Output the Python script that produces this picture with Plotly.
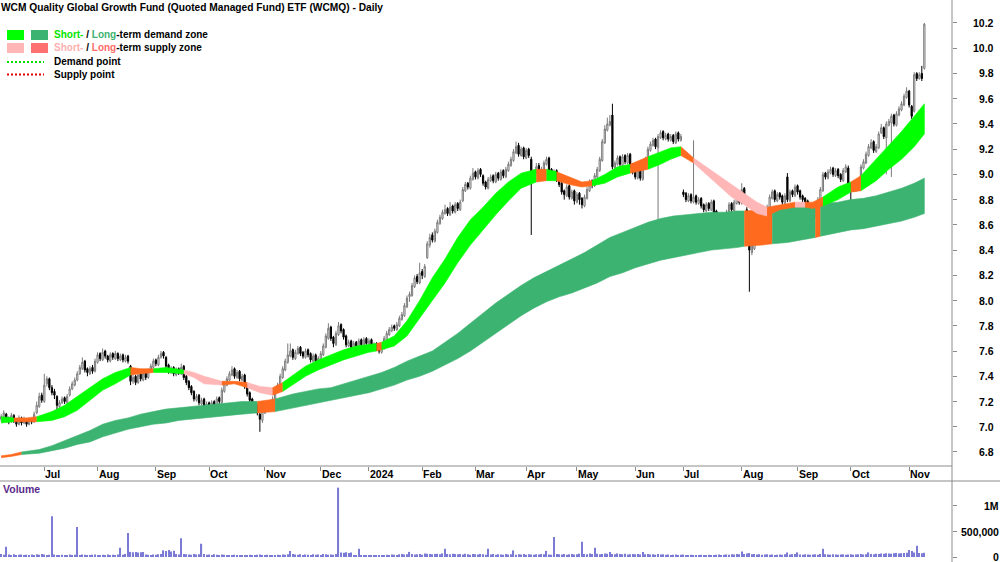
import plotly.graph_objects as go
import pandas as pd

# ---------------- data ----------------
opens = [
7.06,7.08,7.10,7.06,7.04,7.09,7.05,7.02,7.07,7.03,
7.06,7.02,7.05,7.04,7.11,7.16,7.25,7.20,7.34,7.38,
7.31,7.28,7.24,7.16,7.19,7.23,7.19,7.25,7.30,7.33,
7.37,7.42,7.46,7.52,7.46,7.42,7.47,7.44,7.51,7.58,
7.53,7.60,7.56,7.52,7.58,7.54,7.58,7.53,7.57,7.52,
7.56,7.48,7.36,7.40,7.35,7.42,7.37,7.43,7.39,7.44,
7.47,7.53,7.49,7.55,7.59,7.55,7.49,7.43,7.47,7.41,
7.46,7.42,7.48,7.40,7.36,7.32,7.28,7.21,7.25,7.18,
7.22,7.15,7.19,7.13,7.20,7.16,7.23,7.19,7.28,7.33,
7.37,7.41,7.46,7.39,7.44,7.37,7.41,7.33,7.27,7.22,
7.19,7.17,7.10,7.05,7.11,7.13,7.18,7.14,7.21,7.28,
7.32,7.39,7.45,7.51,7.56,7.61,7.54,7.58,7.63,7.59,
7.55,7.61,7.58,7.52,7.57,7.51,7.53,7.57,7.63,7.70,
7.79,7.71,7.65,7.73,7.81,7.77,7.72,7.64,7.68,7.62,
7.67,7.63,7.69,7.64,7.70,7.65,7.69,7.63,7.66,7.63,
7.59,7.62,7.69,7.73,7.76,7.80,7.77,7.80,7.85,7.88,
7.95,8.03,8.04,8.11,8.19,8.14,8.23,8.19,8.34,8.44,
8.52,8.47,8.54,8.61,8.65,8.69,8.73,8.68,8.75,8.70,
8.77,8.72,8.79,8.87,8.93,8.89,8.96,9.02,8.97,9.04,
8.99,8.94,8.89,8.95,8.99,8.94,9.01,8.96,9.03,8.98,
9.03,9.07,9.11,9.17,9.23,9.15,9.21,9.13,9.20,9.12,
8.97,9.01,9.07,8.99,9.03,9.08,9.13,9.04,8.97,9.03,
8.97,8.93,8.87,8.83,8.91,8.81,8.87,8.78,8.85,8.81,
8.75,8.81,8.87,8.95,8.91,8.98,9.03,9.11,9.25,9.35,
9.39,9.47,9.05,9.08,9.14,9.07,9.15,9.09,9.16,9.08,
9.03,8.97,9.04,8.96,9.05,9.11,9.19,9.23,9.28,9.21,
9.29,9.34,9.28,9.32,9.27,9.31,9.25,9.33,9.27,8.86,
8.85,8.79,8.84,8.78,8.83,8.77,8.81,8.76,8.71,8.77,
8.72,8.79,8.71,8.67,8.63,8.59,8.65,8.69,8.77,8.71,
8.77,8.83,8.77,8.89,8.72,8.45,8.38,8.41,8.47,8.51,
8.57,8.61,8.65,8.73,8.81,8.87,8.79,8.85,8.83,8.77,
8.98,8.79,8.87,8.83,8.91,8.87,8.83,8.81,8.79,8.74,
8.71,8.67,8.71,8.79,8.87,9.01,8.97,9.01,9.05,8.99,
9.04,9.00,8.95,9.02,9.05,8.93,8.91,8.87,8.91,8.95,
9.05,9.09,9.15,9.21,9.26,9.18,9.21,9.33,9.37,9.29,
9.39,9.41,9.47,9.39,9.47,9.51,9.55,9.61,9.66,9.54,
9.50,9.80,9.76,9.80,9.84]

highs = [
7.10,7.13,7.11,7.08,7.11,7.10,7.06,7.09,7.08,7.08,
7.07,7.07,7.07,7.12,7.20,7.27,7.27,7.42,7.40,7.39,
7.33,7.30,7.25,7.21,7.24,7.24,7.26,7.32,7.36,7.39,
7.44,7.49,7.55,7.53,7.47,7.48,7.49,7.54,7.59,7.59,
7.62,7.61,7.57,7.59,7.59,7.60,7.59,7.58,7.58,7.57,
7.57,7.49,7.41,7.41,7.43,7.43,7.44,7.44,7.46,7.50,
7.54,7.54,7.57,7.60,7.60,7.56,7.50,7.48,7.48,7.47,
7.47,7.50,7.49,7.41,7.37,7.33,7.29,7.26,7.26,7.23,
7.23,7.20,7.20,7.21,7.21,7.24,7.24,7.31,7.36,7.40,
7.44,7.48,7.47,7.45,7.45,7.42,7.42,7.34,7.28,7.23,
7.20,7.18,7.11,7.14,7.16,7.19,7.19,7.24,7.31,7.35,
7.42,7.48,7.54,7.66,7.66,7.62,7.61,7.64,7.64,7.60,
7.62,7.62,7.59,7.58,7.58,7.56,7.60,7.66,7.74,7.82,
7.80,7.72,7.76,7.83,7.82,7.78,7.73,7.69,7.69,7.68,
7.68,7.70,7.70,7.71,7.71,7.70,7.70,7.67,7.67,7.64,
7.65,7.72,7.76,7.79,7.81,7.81,7.83,7.88,7.91,7.98,
8.04,8.07,8.14,8.20,8.21,8.30,8.25,8.29,8.47,8.53,
8.54,8.57,8.64,8.68,8.72,8.76,8.74,8.78,8.76,8.78,
8.78,8.80,8.90,8.94,8.94,8.99,9.05,9.03,9.05,9.05,
9.00,8.95,8.98,9.00,9.00,9.02,9.02,9.04,9.04,9.06,
9.10,9.14,9.20,9.26,9.25,9.22,9.22,9.21,9.21,9.14,
9.04,9.09,9.09,9.06,9.11,9.14,9.14,9.05,9.04,9.04,
8.98,8.94,8.88,8.92,8.92,8.88,8.88,8.86,8.86,8.82,
8.84,8.90,8.96,8.96,9.01,9.06,9.14,9.28,9.39,9.45,
9.47,9.56,9.11,9.15,9.15,9.16,9.16,9.17,9.17,9.09,
9.04,9.05,9.05,9.08,9.14,9.22,9.26,9.29,9.29,9.32,
9.35,9.35,9.33,9.33,9.32,9.32,9.34,9.34,9.32,8.88,
8.86,8.85,8.85,9.27,8.84,8.82,8.82,8.77,8.78,8.78,
8.80,8.80,8.72,8.68,8.64,8.68,8.72,8.78,8.78,8.80,
8.84,8.84,8.93,8.90,8.74,8.47,8.46,8.50,8.54,8.60,
8.64,8.68,8.76,8.84,8.88,8.88,8.86,8.86,8.84,8.85,
9.01,8.88,8.88,8.92,8.92,8.88,8.84,8.82,8.80,8.75,
8.72,8.74,8.82,8.90,9.02,9.02,9.04,9.06,9.06,9.05,
9.05,9.01,9.05,9.08,9.07,8.94,8.92,8.94,8.96,9.08,
9.12,9.18,9.24,9.28,9.27,9.24,9.34,9.40,9.38,9.42,
9.44,9.48,9.48,9.50,9.54,9.58,9.64,9.69,9.67,9.55,
9.81,9.81,9.81,9.86,10.20]

lows = [
7.04,7.07,7.04,7.02,7.03,7.03,7.00,7.01,7.01,7.02,
7.00,7.01,7.02,7.03,7.10,7.15,7.19,7.19,7.32,7.29,
7.25,7.22,7.13,7.14,7.18,7.18,7.18,7.24,7.29,7.32,
7.36,7.41,7.45,7.43,7.40,7.41,7.42,7.43,7.50,7.52,
7.52,7.54,7.51,7.51,7.53,7.53,7.52,7.52,7.51,7.51,
7.50,7.33,7.34,7.33,7.34,7.36,7.36,7.37,7.38,7.43,
7.46,7.48,7.48,7.54,7.54,7.46,7.42,7.42,7.40,7.40,
7.41,7.41,7.37,7.33,7.29,7.25,7.20,7.20,7.17,7.17,
7.14,7.14,7.12,7.12,7.15,7.15,7.18,7.18,7.27,7.32,
7.36,7.40,7.38,7.38,7.36,7.36,7.30,7.24,7.19,7.16,
7.14,7.09,6.96,7.03,7.10,7.12,7.13,7.13,7.20,7.27,
7.31,7.38,7.44,7.50,7.55,7.53,7.53,7.57,7.56,7.54,
7.54,7.55,7.51,7.51,7.49,7.50,7.52,7.56,7.62,7.69,
7.68,7.63,7.64,7.72,7.74,7.69,7.63,7.63,7.61,7.61,
7.62,7.62,7.63,7.63,7.64,7.64,7.62,7.62,7.60,7.58,
7.58,7.61,7.68,7.72,7.75,7.76,7.76,7.79,7.84,7.87,
7.94,7.99,8.03,8.10,8.13,8.13,8.17,8.18,8.33,8.42,
8.46,8.46,8.53,8.60,8.64,8.68,8.67,8.67,8.69,8.69,
8.71,8.71,8.78,8.86,8.88,8.88,8.95,8.96,8.96,8.98,
8.91,8.88,8.88,8.94,8.93,8.93,8.95,8.95,8.97,8.97,
9.02,9.06,9.10,9.16,9.14,9.14,9.12,9.12,9.13,8.52,
8.96,9.00,8.98,8.98,9.02,9.07,9.01,8.96,8.96,8.94,
8.90,8.84,8.80,8.82,8.80,8.80,8.76,8.77,8.76,8.73,
8.74,8.80,8.86,8.89,8.90,8.97,9.02,9.10,9.24,9.34,
9.38,9.04,9.03,9.07,9.06,9.06,9.08,9.08,9.05,9.00,
8.96,8.96,8.95,8.95,9.04,9.10,9.18,9.22,9.20,8.60,
9.28,9.27,9.27,9.26,9.26,9.24,9.24,9.26,9.26,8.82,
8.78,8.78,8.77,8.77,8.76,8.76,8.73,8.70,8.70,8.71,
8.71,8.68,8.64,8.60,8.57,8.58,8.64,8.68,8.70,8.70,
8.76,8.76,8.76,8.82,8.52,8.07,8.36,8.40,8.46,8.50,
8.56,8.60,8.64,8.72,8.80,8.78,8.78,8.80,8.76,8.76,
8.78,8.78,8.82,8.82,8.84,8.80,8.78,8.76,8.71,8.68,
8.64,8.66,8.70,8.78,8.86,8.96,8.96,9.00,8.98,8.98,
8.97,8.94,8.94,9.01,8.91,8.56,8.86,8.86,8.90,8.94,
9.04,9.08,9.14,9.20,9.17,9.17,9.20,9.32,9.28,9.00,
9.38,8.98,9.38,9.38,9.46,9.50,9.54,9.60,9.53,9.44,
9.49,9.74,9.75,9.74,9.83]

closes = [
7.08,7.11,7.06,7.04,7.09,7.05,7.02,7.07,7.03,7.06,
7.02,7.05,7.04,7.10,7.17,7.24,7.21,7.33,7.38,7.31,
7.27,7.25,7.17,7.19,7.22,7.20,7.24,7.30,7.34,7.37,
7.42,7.47,7.51,7.45,7.43,7.46,7.44,7.52,7.57,7.54,
7.59,7.56,7.53,7.57,7.55,7.58,7.54,7.56,7.53,7.55,
7.52,7.36,7.39,7.35,7.41,7.38,7.42,7.39,7.44,7.48,
7.52,7.50,7.55,7.58,7.56,7.48,7.44,7.46,7.42,7.45,
7.43,7.47,7.39,7.35,7.31,7.27,7.22,7.24,7.19,7.21,
7.16,7.18,7.14,7.19,7.17,7.22,7.20,7.29,7.34,7.38,
7.42,7.45,7.40,7.43,7.38,7.40,7.32,7.26,7.21,7.18,
7.16,7.11,7.06,7.12,7.14,7.17,7.15,7.22,7.29,7.33,
7.40,7.46,7.52,7.57,7.60,7.55,7.59,7.62,7.58,7.56,
7.60,7.57,7.53,7.56,7.52,7.54,7.58,7.64,7.72,7.78,
7.70,7.66,7.74,7.80,7.76,7.71,7.65,7.67,7.63,7.66,
7.64,7.68,7.65,7.69,7.66,7.68,7.64,7.65,7.62,7.60,
7.63,7.70,7.74,7.77,7.79,7.78,7.81,7.86,7.89,7.96,
8.02,8.05,8.12,8.18,8.15,8.22,8.20,8.27,8.45,8.50,
8.48,8.55,8.62,8.66,8.70,8.72,8.69,8.74,8.71,8.76,
8.73,8.78,8.88,8.92,8.90,8.97,9.01,8.98,9.03,9.00,
8.93,8.90,8.96,8.98,8.95,9.00,8.97,9.02,8.99,9.04,
9.08,9.12,9.18,9.22,9.16,9.20,9.14,9.19,9.15,8.98,
9.02,9.06,9.00,9.04,9.09,9.12,9.03,8.98,9.02,8.96,
8.92,8.86,8.84,8.90,8.82,8.86,8.79,8.84,8.80,8.76,
8.82,8.88,8.94,8.92,8.99,9.04,9.12,9.26,9.36,9.40,
9.42,9.06,9.09,9.13,9.08,9.14,9.10,9.15,9.07,9.02,
8.98,9.03,8.97,9.06,9.12,9.20,9.24,9.27,9.22,9.30,
9.33,9.29,9.31,9.28,9.30,9.26,9.32,9.28,9.30,8.84,
8.80,8.83,8.79,8.82,8.78,8.80,8.75,8.72,8.76,8.73,
8.78,8.70,8.66,8.62,8.60,8.66,8.70,8.76,8.72,8.78,
8.82,8.78,8.88,8.84,8.53,8.40,8.44,8.48,8.52,8.58,
8.62,8.66,8.74,8.82,8.86,8.80,8.84,8.82,8.78,8.83,
8.80,8.86,8.84,8.90,8.86,8.82,8.80,8.78,8.73,8.70,
8.68,8.72,8.80,8.88,9.00,8.98,9.02,9.04,9.00,9.03,
8.99,8.96,9.03,9.06,8.92,8.90,8.88,8.92,8.94,9.06,
9.10,9.16,9.22,9.25,9.19,9.22,9.32,9.37,9.30,9.40,
9.42,9.46,9.40,9.48,9.52,9.56,9.62,9.66,9.55,9.46,
9.79,9.76,9.79,9.76,10.19]

# daily volume, thousands of units
volume_k = [
60,45,200,50,40,55,35,45,50,40,
45,35,50,40,55,45,60,50,40,45,
800,50,40,35,45,30,40,50,35,45,
590,40,50,45,35,40,45,50,40,35,
45,40,50,35,45,40,50,180,45,60,
470,100,95,100,90,95,100,50,45,40,
50,45,55,60,130,120,135,110,125,60,
50,370,60,55,50,45,60,50,55,260,
60,45,50,40,55,45,40,50,45,40,
35,40,45,35,40,30,35,40,45,35,
40,45,50,40,35,45,40,35,40,45,
40,50,45,55,120,60,50,45,55,40,
50,45,40,55,45,50,40,60,55,45,
50,45,60,1360,90,85,95,80,90,40,
35,160,30,25,35,30,40,35,30,35,
40,35,45,40,50,45,40,55,60,50,
55,100,60,50,55,60,45,70,65,60,
55,60,65,55,70,160,60,55,65,60,
55,60,50,65,55,45,60,55,50,60,
55,45,160,50,60,45,55,50,45,60,
50,55,130,45,55,50,60,45,55,50,
45,55,50,60,55,120,50,45,390,60,
55,50,60,45,55,60,50,55,65,300,
60,55,70,60,180,65,55,60,70,65,
100,60,55,70,60,55,65,50,55,60,
55,60,50,100,55,60,50,55,45,60,
50,55,45,50,40,45,50,40,45,50,
40,35,45,40,35,40,45,35,40,45,
40,35,45,50,40,45,50,45,55,50,
60,55,110,60,70,80,55,60,50,55,
45,50,55,45,50,40,45,50,45,55,
90,50,55,60,90,50,45,55,50,45,
50,55,45,60,160,55,50,45,55,50,
45,50,55,45,50,55,45,50,55,60,
50,55,90,60,55,65,60,70,65,75,
70,65,75,80,70,75,80,85,135,120,
90,220,80,75,85]

# short-term zone edges, read at these trading-day positions
st_idx = [0,5,10,14,20,25,30,35,40,45,51,55,60,65,72,76,80,87,92,97,
          102,107,111,115,120,125,130,135,140,145,148,150,155,160,165,170,175,180,185,190,
          195,200,205,211,215,219,224,229,233,238,243,248,255,260,264,268,273,278,283,288,
          293,298,302,307,313,317,320,324,330,335,339,345,350,355,360,364]
st_hi = [7.08,7.07,7.07,7.08,7.12,7.17,7.24,7.31,7.38,7.43,7.47,7.46,7.46,7.47,7.45,7.43,7.40,7.36,7.36,7.35,
         7.32,7.31,7.35,7.41,7.48,7.53,7.57,7.61,7.64,7.65,7.66,7.67,7.72,7.84,8.00,8.18,8.33,8.50,8.64,8.74,
         8.85,8.94,9.01,9.04,9.04,9.02,8.98,8.94,8.95,9.00,9.06,9.08,9.14,9.18,9.21,9.22,9.13,9.06,8.99,8.92,
         8.85,8.78,8.74,8.76,8.78,8.78,8.78,8.82,8.90,8.94,8.99,9.12,9.23,9.34,9.46,9.56]
st_lo = [7.03,7.04,7.04,7.04,7.05,7.08,7.13,7.21,7.29,7.34,7.41,7.42,7.43,7.43,7.42,7.39,7.34,7.33,7.34,7.31,
         7.27,7.25,7.28,7.33,7.40,7.45,7.49,7.53,7.56,7.59,7.60,7.61,7.64,7.72,7.86,8.00,8.14,8.30,8.44,8.56,
         8.68,8.79,8.89,8.94,8.95,8.95,8.92,8.90,8.91,8.93,8.98,9.01,9.04,9.08,9.12,9.15,9.09,9.00,8.91,8.82,
         8.76,8.69,8.67,8.72,8.74,8.74,8.73,8.75,8.80,8.86,8.87,8.95,9.04,9.12,9.22,9.32]
# zone state between consecutive readings: D demand, S supply, T tested
st_state = list("DTTDDDDDDDTTDDSSSTTSSTDDDDDDDDTDDDDDDDDDDDDTDTTTDDDTDDDTSSSSSSTTSTTDDTDDDDD")

# long-term zone edges
lt_idx = [0,4,8,15,20,25,30,35,40,45,50,55,60,65,70,75,80,85,90,95,
          101,108,115,120,125,130,135,140,145,150,155,160,165,170,175,180,185,190,195,200,
          205,210,215,220,225,230,235,240,245,250,255,260,265,270,275,280,285,290,293,300,
          304,310,315,321,323,330,335,340,345,350,355,360,364]
lt_hi = [6.77,6.78,6.80,6.82,6.85,6.89,6.93,6.97,7.02,7.05,7.07,7.10,7.12,7.14,7.15,7.16,7.17,7.18,7.19,7.20,
         7.20,7.22,7.26,7.28,7.30,7.31,7.34,7.37,7.40,7.43,7.47,7.52,7.56,7.60,7.67,7.74,7.82,7.90,7.98,8.05,
         8.12,8.18,8.23,8.28,8.33,8.38,8.44,8.50,8.54,8.58,8.62,8.65,8.67,8.68,8.69,8.70,8.70,8.71,8.71,8.72,
         8.73,8.74,8.75,8.76,8.77,8.78,8.80,8.81,8.83,8.86,8.89,8.93,8.97]
lt_lo = [6.755,6.765,6.78,6.79,6.81,6.83,6.86,6.88,6.92,6.95,6.98,7.00,7.02,7.03,7.05,7.06,7.07,7.08,7.09,7.10,
         7.11,7.12,7.15,7.17,7.19,7.21,7.23,7.25,7.27,7.30,7.33,7.37,7.40,7.44,7.49,7.54,7.60,7.67,7.74,7.81,
         7.88,7.94,7.99,8.03,8.06,8.10,8.14,8.19,8.22,8.26,8.29,8.32,8.34,8.36,8.38,8.40,8.41,8.42,8.43,8.44,
         8.45,8.46,8.48,8.50,8.51,8.54,8.56,8.57,8.59,8.61,8.63,8.66,8.69]
lt_state = list("TTDDDDDDDDDDDDDDDDDDTDDDDDDDDDDDDDDDDDDDDDDDDDDDDDDDDDDDDDTTDDDTDDDDDDDD")

price_ticks = [6.8, 7.0, 7.2, 7.4, 7.6, 7.8, 8.0, 8.2, 8.4, 8.6, 8.8, 9.0, 9.2, 9.4, 9.6, 9.8, 10.0, 10.2]
volume_ticks = [0, 500000, 1000000]
volume_tick_text = ["0", "500,000", "1M"]

holidays = ["2023-06-12", "2023-12-25", "2023-12-26", "2024-01-01", "2024-01-26",
            "2024-03-29", "2024-04-01", "2024-04-25", "2024-06-10"]

# ---------------- derived structure ----------------
n = len(closes)
dates = pd.bdate_range("2023-06-07", "2024-12-31", freq="C", holidays=holidays)[:n]
xi = list(range(n))
month_idx = [i for i in range(1, n) if dates[i].month != dates[i - 1].month]
month_lbl = ["2024" if dates[i].month == 1 else dates[i].strftime("%b") for i in month_idx]
volumes = [v * 1000 for v in volume_k]

FONT = "Liberation Sans, Arial, sans-serif"
GREEN_ST = "#00FF00"
GREEN_LT = "#3CB371"
PINK_ST = "#FFB6B6"
RED_LT = "#FF7070"
ORANGE = "#FF6A1E"
AXIS_GREY = "#8C8C8C"

W, H = 1000, 562
def px(x):
    return x / W
def py(y):
    return 1 - y / H

fig = go.Figure()

def add_zone(idx, hi, lo, state, colors):
    k, m = 0, len(state)
    while k < m:
        s = state[k]
        j = k
        while j + 1 < m and state[j + 1] == s:
            j += 1
        pts = list(range(k, j + 2))
        xs = [idx[p] for p in pts] + [idx[p] for p in reversed(pts)]
        ys = [hi[p] for p in pts] + [lo[p] for p in reversed(pts)]
        fig.add_trace(go.Scatter(x=xs, y=ys, mode="lines", fill="toself",
                                 fillcolor=colors[s], line=dict(width=0.6, color=colors[s]),
                                 hoverinfo="skip", showlegend=False, xaxis="x", yaxis="y"))
        k = j + 1

add_zone(lt_idx, lt_hi, lt_lo, lt_state, {"D": GREEN_LT, "S": RED_LT, "T": ORANGE})
add_zone(st_idx, st_hi, st_lo, st_state, {"D": GREEN_ST, "S": PINK_ST, "T": ORANGE})

fig.add_trace(go.Candlestick(
    x=xi, open=opens, high=highs, low=lows, close=closes,
    increasing=dict(line=dict(color="#7A7A7A", width=1), fillcolor="#FFFFFF"),
    decreasing=dict(line=dict(color="#000000", width=1), fillcolor="#000000"),
    whiskerwidth=0, showlegend=False, hoverinfo="skip", xaxis="x", yaxis="y"))

fig.add_trace(go.Bar(x=xi, y=volumes, width=0.45, marker=dict(color="#7B7BD6", line=dict(width=0)),
                     showlegend=False, hoverinfo="skip", xaxis="x2", yaxis="y2"))

x_range = [-0.47, 374.9]
fig.update_layout(
    width=W, height=H, margin=dict(l=0, r=0, t=0, b=0),
    paper_bgcolor="white", plot_bgcolor="white", showlegend=False,
    hovermode=False, dragmode=False,
    font=dict(family=FONT, size=11, color="black"),
    xaxis=dict(domain=[0, 0.952], range=x_range, anchor="y", tickvals=month_idx,
               ticks="outside", ticklen=4, tickcolor=AXIS_GREY, showticklabels=False,
               showgrid=False, zeroline=False, showline=False, rangeslider=dict(visible=False)),
    yaxis=dict(domain=[py(466), 1], range=[6.689, 10.382], side="right", anchor="x",
               tickvals=price_ticks, ticks="outside", ticklen=4, tickcolor=AXIS_GREY,
               showticklabels=False, showgrid=False, zeroline=False, showline=False),
    xaxis2=dict(domain=[0, 0.952], range=x_range, anchor="y2", showticklabels=False,
                ticks="", showgrid=False, zeroline=False, showline=False),
    yaxis2=dict(domain=[0, py(481)], range=[-98000, 1490000], side="right", anchor="x2",
                tickvals=volume_ticks, ticks="outside", ticklen=4, tickcolor=AXIS_GREY,
                showticklabels=False, showgrid=False, zeroline=False, showline=False),
)

shapes = [
    dict(type="line", xref="paper", yref="paper", x0=0.952, x1=0.952, y0=0, y1=1,
         line=dict(color=AXIS_GREY, width=1)),
    dict(type="line", xref="paper", yref="paper", x0=0, x1=0.952, y0=py(466), y1=py(466),
         line=dict(color=AXIS_GREY, width=1)),
    dict(type="line", xref="paper", yref="paper", x0=0, x1=1, y0=py(481), y1=py(481),
         line=dict(color=AXIS_GREY, width=1)),
    # legend swatches
    dict(type="rect", xref="paper", yref="paper", x0=px(7), x1=px(24), y0=py(40), y1=py(30),
         fillcolor=GREEN_ST, line=dict(width=0)),
    dict(type="rect", xref="paper", yref="paper", x0=px(31), x1=px(48), y0=py(40), y1=py(30),
         fillcolor=GREEN_LT, line=dict(width=0)),
    dict(type="rect", xref="paper", yref="paper", x0=px(7), x1=px(24), y0=py(53), y1=py(43),
         fillcolor=PINK_ST, line=dict(width=0)),
    dict(type="rect", xref="paper", yref="paper", x0=px(31), x1=px(48), y0=py(53), y1=py(43),
         fillcolor=RED_LT, line=dict(width=0)),
    dict(type="line", xref="paper", yref="paper", x0=px(7), x1=px(44), y0=py(62), y1=py(62),
         line=dict(color="#00DD00", width=2, dash="2px,2px")),
    dict(type="line", xref="paper", yref="paper", x0=px(7), x1=px(44), y0=py(74.5), y1=py(74.5),
         line=dict(color="#E00000", width=2, dash="2px,2px")),
]
fig.update_layout(shapes=shapes)

ann = []
def label(x, y, text, size=10.5, color="black", xanchor="left", xref="paper", yref="paper"):
    ann.append(dict(x=x, y=y, xref=xref, yref=yref, text=text, showarrow=False,
                    xanchor=xanchor, yanchor="middle", borderpad=0,
                    font=dict(family=FONT, size=size, color=color)))

label(px(0), py(7), "<b>WCM Quality Global Growth Fund (Quoted Managed Fund) ETF (WCMQ) - Daily</b>", size=10.2)
label(px(53), py(35), "<b><span style='color:#00E600'>Short-</span> / <span style='color:#3CB371'>Long</span>-term demand zone</b>", size=10)
label(px(53), py(48), "<b><span style='color:#FFB0B0'>Short-</span> / <span style='color:#FF6B6B'>Long</span>-term supply zone</b>", size=10)
label(px(53), py(62), "<b>Demand point</b>", size=10)
label(px(53), py(75), "<b>Supply point</b>", size=10)
label(px(2), py(489), "<b>Volume</b>", color="#5A2A8A")

for v in price_ticks:
    label(px(995), v, "<b>%.1f</b>" % v, xanchor="right", yref="y")
for v, t in zip(volume_ticks, volume_tick_text):
    label(px(1000), v, "<b>%s</b>" % t, xanchor="right", yref="y2")
for i, t in zip(month_idx, month_lbl):
    label(i, py(474), "<b>%s</b>" % t, xref="x")

fig.update_layout(annotations=ann)
fig.write_html("out.html")
